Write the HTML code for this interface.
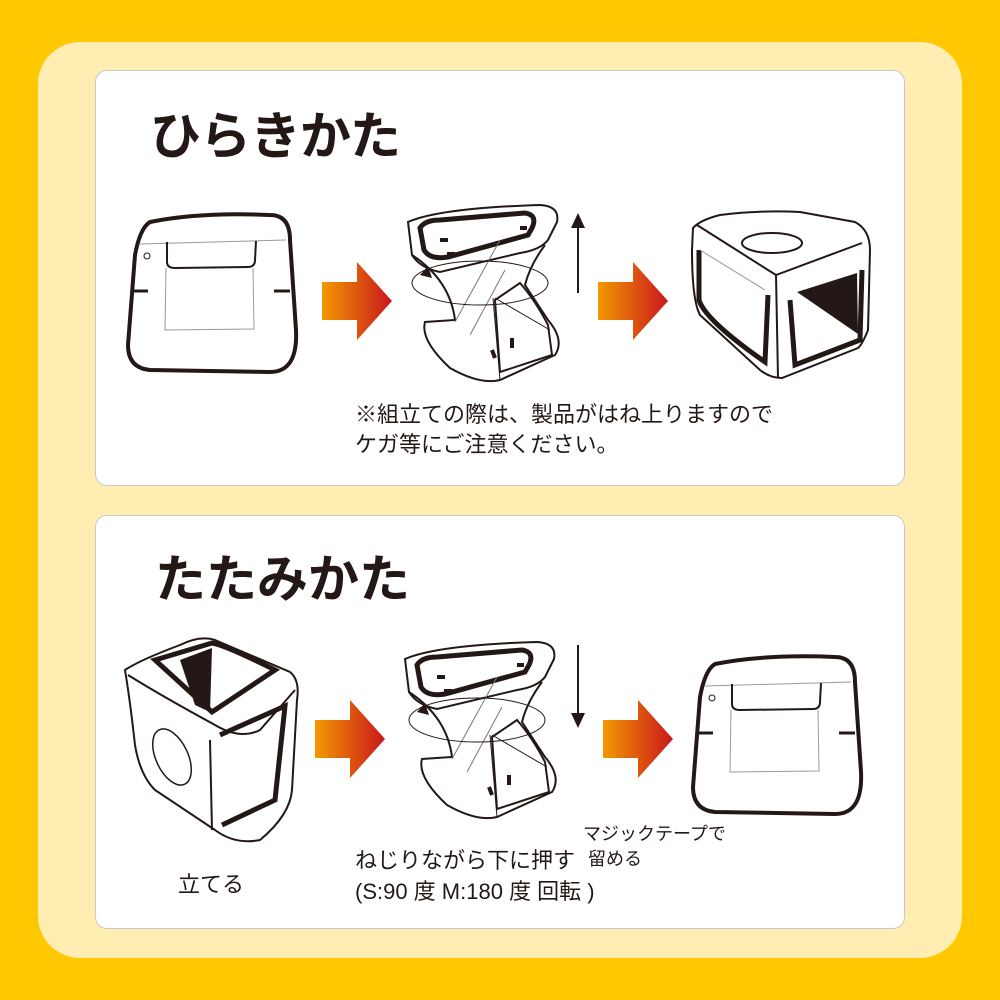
<!DOCTYPE html>
<html><head><meta charset="utf-8"><style>
html,body{margin:0;padding:0}
body{width:1000px;height:1000px;background:#FFC800;position:relative;overflow:hidden;font-family:"Liberation Sans","Noto Sans CJK JP",sans-serif;color:#231815}
.inner{position:absolute;left:38px;top:42px;width:924px;height:916px;background:#FFEDB2;border-radius:42px}
.panel{position:absolute;left:95px;width:808px;background:#fff;border:1px solid #c8c8c8;border-radius:12px}
.t{position:absolute;white-space:nowrap}
svg{position:absolute;left:0;top:0}
</style></head><body>
<div class="inner"></div>
<div class="panel" style="top:70px;height:414px"></div>
<div class="panel" style="top:515px;height:412px"></div>
<div class="t" style="left:150px;top:95px;font-size:51px;font-weight:bold;letter-spacing:-1px">ひらきかた</div>
<div class="t" style="left:155px;top:538px;font-size:51px;font-weight:bold;letter-spacing:0px">たたみかた</div>
<div class="t" style="left:355px;top:400px;font-size:22px;line-height:30px">※組立ての際は、製品がはね上りますので<br>ケガ等にご注意ください。</div>
<div class="t" style="left:178px;top:867px;font-size:22px">立てる</div>
<div class="t" style="left:355px;top:845px;font-size:22px;line-height:31px">ねじりながら下に押す<br>(S:90 度 M:180 度 回転 )</div>
<div class="t" style="left:583px;top:822px;font-size:18px;line-height:25px">マジックテープで<br>&nbsp;留める</div>
<svg width="1000" height="1000" viewBox="0 0 1000 1000">
<defs>
<linearGradient id="g" x1="0" x2="1"><stop offset="0" stop-color="#F39800"/><stop offset="1" stop-color="#C9161D"/></linearGradient>
<g id="arr"><polygon points="0,20 35,20 35,0 70,39 35,78 35,58 0,58" fill="url(#g)"/></g>
<g id="flat" fill="none" stroke="#231815">
<path d="M150,222 Q200,212 270,215 Q290,215 290,240 L296,330 Q298,372 270,372 L150,370 Q128,368 128,345 L135,255 Q140,228 150,222Z" stroke-width="4"/>
<path d="M140,244 L286,240" stroke="#999" stroke-width="1"/>
<path d="M167,242 L167,262 Q167,268 175,268 L248,267 Q255,267 255,260 L256,241" stroke-width="2"/>
<path d="M166,268 L165,330 L254,329 L253,268" stroke="#999" stroke-width="1"/>
<path d="M132,291 L148,291 M274,291 L290,291" stroke-width="3"/>
<circle cx="147" cy="256" r="3" stroke-width="1"/>
</g>
<g id="twist" fill="none" stroke="#231815">
<path d="M408,222 Q440,208 540,205 Q560,206 557,222 L548,240 Q540,250 520,253 L440,272 Q420,268 412,255 Z" stroke-width="2"/>
<path d="M420,228 Q425,220 440,220 L525,213 Q538,215 532,228 L528,235 L448,257 Q430,260 424,250 Z" stroke-width="5"/>
<path d="M412,255 Q450,280 455,320 L425,322 Q420,340 450,368 Q480,385 500,380 L555,355 Q565,340 548,320 L525,285 Q530,265 545,245" stroke-width="2"/>
<path d="M493,298 L500,380 M495,298 L550,330" stroke-width="1"/>
<path d="M495,300 L520,283 Q535,300 548,325 L552,355 L500,372 Z" stroke-width="2"/>
<path d="M455,322 L500,240 M470,335 L505,270" stroke="#777" stroke-width="1"/>
<ellipse cx="480" cy="283" rx="68" ry="22" stroke-width="1"/>
<polygon points="420,275 428,266 432,278" fill="#231815" stroke="none"/>
<path d="M440,240 L448,240 M447,254 L455,254 M520,228 L527,228 M512,338 L512,348 M492,350 L495,358" stroke-width="4"/>
</g>
</defs>
<use href="#arr" x="322" y="262"/>
<use href="#arr" x="598" y="262"/>
<use href="#arr" x="315" y="700"/>
<use href="#arr" x="603" y="700"/>
<path d="M578,293 L578,225" stroke="#231815" stroke-width="2"/><polygon points="571,228 578,213 585,228" fill="#231815"/>
<path d="M578,645 L578,715" stroke="#231815" stroke-width="2"/><polygon points="571,713 578,728 585,713" fill="#231815"/>
<use href="#flat"/>
<use href="#flat" x="565" y="442"/>
<use href="#twist"/>
<use href="#twist" x="-3" y="437"/>
<g fill="none" stroke="#231815">
<path d="M693,228 Q700,220 720,215 Q760,210 800,212 L855,222 Q870,230 870,250 L868,330 Q862,345 858,348 L782,378 Q770,378 760,370 L700,315 Q692,300 692,250Z" stroke-width="2"/>
<path d="M697,225 L776,275 L862,243 M776,275 L778,378" stroke-width="2"/>
<ellipse cx="772" cy="243" rx="30" ry="10" stroke-width="2"/>
<path d="M699,250 L699,300 Q705,320 765,362 L768,295" stroke-width="5"/>
<path d="M790,300 L795,365 L860,340 L862,270" stroke-width="5"/>
<polygon points="797,292 857,273 858,334 Z" fill="#231815" stroke="none"/>
<path d="M700,250 L765,290" stroke="#999" stroke-width="1"/>
</g>
<g fill="none" stroke="#231815">
<path d="M125,670 Q140,660 180,645 Q200,635 215,640 L290,672 Q300,680 297,700 L292,790 Q290,815 260,840 Q235,845 215,830 L155,790 Q140,775 135,745 Q130,700 125,670Z" stroke-width="2"/>
<path d="M128,675 Q160,695 215,725 Q240,740 260,730 L295,690 M210,740 L212,830" stroke-width="2"/>
<path d="M155,660 L212,643 Q225,645 275,670 L212,712 Z" stroke-width="5"/>
<polygon points="180,660 212,648 210,712 195,705" fill="#231815" stroke="none"/>
<path d="M220,735 L285,706 L275,800 L222,825" stroke-width="5"/>
<ellipse cx="172" cy="757" rx="16" ry="30" transform="rotate(-25 172 757)" stroke-width="1.5"/>
</g>
</svg>
</body></html>
